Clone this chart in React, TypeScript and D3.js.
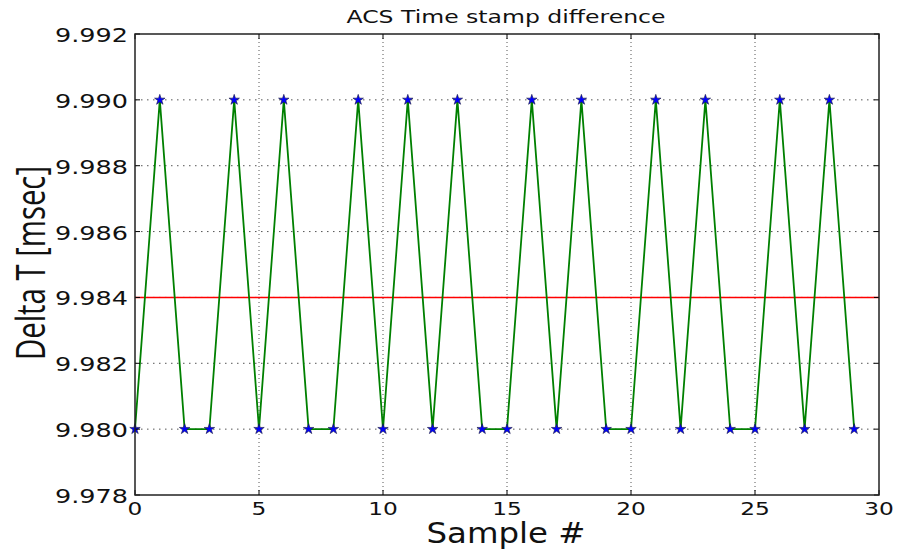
import React from "react";
import * as d3 from "d3";

const sampleIdx: number[] = Array.from({ length: 30 }, (_, i) => i);
const deltaT: number[] = [
  9.98, 9.99, 9.98, 9.98, 9.99, 9.98, 9.99, 9.98, 9.98, 9.99,
  9.98, 9.99, 9.98, 9.99, 9.98, 9.98, 9.99, 9.98, 9.99, 9.98,
  9.98, 9.99, 9.98, 9.99, 9.98, 9.98, 9.99, 9.98, 9.99, 9.98,
];
const meanLine = 9.984;
const xTicks: number[] = [0, 5, 10, 15, 20, 25, 30];
const yTicks: number[] = [9.978, 9.98, 9.982, 9.984, 9.986, 9.988, 9.99, 9.992];
const titleText = "ACS Time stamp difference";
const xLabelText = "Sample #";
const yLabelText = "Delta T [msec]";

export default function App() {
  const W = 897, H = 552;
  const L = 135, R = 879, T = 34, B = 495;
  const x = d3.scaleLinear().domain([0, 30]).range([L, R]);
  const y = d3.scaleLinear().domain([9.978, 9.992]).range([B, T]);
  const line = d3.line<number>().x((_, i) => x(sampleIdx[i])).y((d) => y(d));
  const star = d3.symbol().type(d3.symbolStar).size(34)() as string;
  const font = "DejaVu Sans, sans-serif";
  return (
    <svg width={W} height={H} style={{ position: "absolute", left: 0, top: 0, background: "#fff" }}>
      <rect x={0} y={0} width={W} height={H} fill="#fff" />
      {/* grid */}
      {xTicks.slice(1, -1).map((t) => (
        <line key={"gx" + t} x1={x(t)} x2={x(t)} y1={T} y2={B} stroke="#555" strokeWidth={1} strokeDasharray="1,3" />
      ))}
      {yTicks.slice(1, -1).map((t) => (
        <line key={"gy" + t} x1={L} x2={R} y1={y(t)} y2={y(t)} stroke="#555" strokeWidth={1} strokeDasharray="1.5,4.5" />
      ))}
      {/* mean line */}
      <line x1={x(0)} x2={x(30)} y1={y(meanLine)} y2={y(meanLine)} stroke="#ff0000" strokeWidth={1.6} />
      {/* data line */}
      <path d={line(deltaT) as string} fill="none" stroke="#008000" strokeWidth={1.8} />
      {deltaT.map((d, i) => (
        <path key={"m" + i} d={star} transform={`translate(${x(sampleIdx[i])},${y(d)})`} fill="#0000ff" stroke="#1a1a40" strokeWidth={0.6} />
      ))}
      {/* ticks */}
      {xTicks.map((t) => (
        <g key={"tx" + t}>
          <line x1={x(t)} x2={x(t)} y1={B} y2={B - 5} stroke="#000" />
          <line x1={x(t)} x2={x(t)} y1={T} y2={T + 5} stroke="#000" />
        </g>
      ))}
      {yTicks.map((t) => (
        <g key={"ty" + t}>
          <line x1={L} x2={L + 5} y1={y(t)} y2={y(t)} stroke="#000" />
          <line x1={R} x2={R - 5} y1={y(t)} y2={y(t)} stroke="#000" />
        </g>
      ))}
      {/* frame */}
      <rect x={L} y={T} width={R - L} height={B - T} fill="none" stroke="#222" strokeWidth={1.5} />
      {/* tick labels */}
      {xTicks.map((t) => {
        const s = String(t);
        return (
          <text key={"lx" + t} x={x(t)} y={515} textAnchor="middle" fontFamily={font} fontSize={18.5}
            textLength={s.length * 14.8} lengthAdjust="spacingAndGlyphs" fill="#111">{s}</text>
        );
      })}
      {yTicks.map((t) => (
        <text key={"ly" + t} x={128} y={y(t) + 8} textAnchor="end" fontFamily={font} fontSize={19.5}
          textLength={73} lengthAdjust="spacingAndGlyphs" fill="#111">{t.toFixed(3)}</text>
      ))}
      {/* title and labels */}
      <text x={506} y={23} textAnchor="middle" fontFamily={font} fontSize={18} textLength={319}
        lengthAdjust="spacingAndGlyphs" fill="#111">{titleText}</text>
      <text x={506} y={543} textAnchor="middle" fontFamily={font} fontSize={28} textLength={159}
        lengthAdjust="spacingAndGlyphs" fill="#111">{xLabelText}</text>
      <text transform="translate(45,263) rotate(-90)" textAnchor="middle" fontFamily="Open Sans, sans-serif"
        fontSize={40} textLength={194} lengthAdjust="spacingAndGlyphs" fill="#111">{yLabelText}</text>
    </svg>
  );
}
